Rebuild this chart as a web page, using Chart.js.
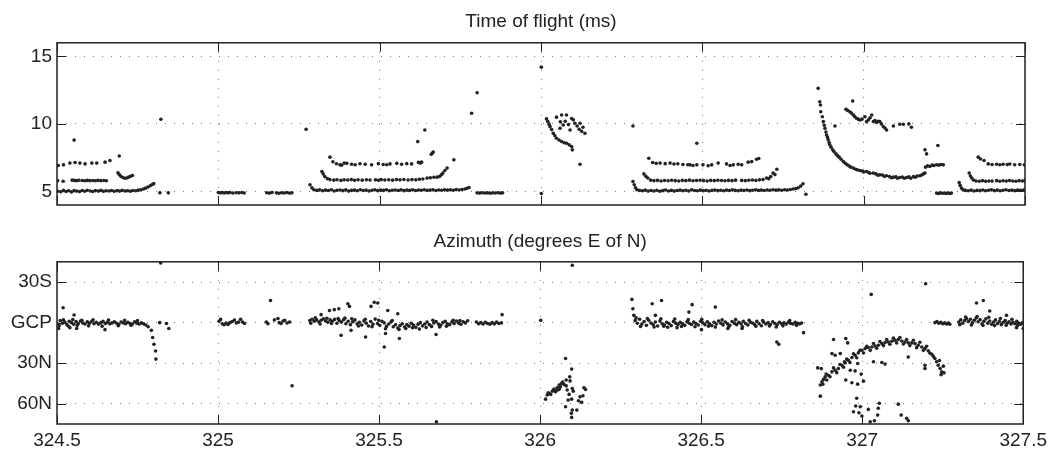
<!DOCTYPE html>
<html>
<head>
<meta charset="utf-8">
<script src="https://cdn.jsdelivr.net/npm/chart.js@4.4.1/dist/chart.umd.min.js"></script>
<style>
  body { margin: 0; background: #fff; }
  canvas { position: absolute; left: 0; }
  #tof { top: 0; }
  #az { top: 226px; }
</style>
</head>
<body>
<canvas id="tof" width="1052" height="226"></canvas>
<canvas id="az" width="1052" height="226"></canvas>
<script>
// axis ticks
const xTicks = [324.5, 325, 325.5, 326, 326.5, 327, 327.5];
const tofTicks = [5, 10, 15];
const azTicks = [-30, 0, 30, 60];
const azTickLabels = ['30S', 'GCP', '30N', '60N'];

// time of flight (ms) -- [time, ms]
const tofNear5 = [
  [324.503,5.02],[324.512,4.98],[324.520,5.08],[324.528,5.00],[324.536,5.05],[324.545,4.97],[324.553,5.06],[324.561,5.03],
  [324.570,4.99],[324.578,5.07],[324.586,5.02],[324.594,5.09],[324.603,5.04],[324.611,5.00],[324.619,5.06],[324.628,5.03],
  [324.636,5.08],[324.644,5.01],[324.652,5.05],[324.661,5.04],[324.669,5.07],[324.677,5.02],[324.686,5.06],[324.694,5.03],
  [324.702,5.08],[324.711,5.04],[324.719,5.05],[324.727,5.02],[324.735,5.07],[324.744,5.05],[324.752,5.10],[324.760,5.12],
  [324.768,5.18],[324.775,5.25],[324.782,5.33],[324.789,5.42],[324.795,5.52],[324.800,5.58],[324.819,4.90],[324.845,4.90],
  [325.000,4.93],[325.006,4.90],[325.012,4.92],[325.018,4.89],[325.024,4.92],[325.030,4.90],[325.036,4.93],[325.045,4.89],
  [325.055,4.91],[325.064,4.90],[325.073,4.92],[325.080,4.89],
  [325.150,4.91],[325.158,4.88],[325.166,4.92],[325.180,4.90],[325.188,4.87],[325.196,4.91],[325.204,4.89],[325.212,4.92],
  [325.220,4.88],[325.228,4.90],
  [325.284,5.50],[325.290,5.27],[325.296,5.13],[325.305,5.08],[325.314,5.12],[325.323,5.05],[325.332,5.10],[325.341,5.07],
  [325.350,5.13],[325.359,5.04],[325.368,5.09],[325.377,5.11],[325.386,5.06],[325.395,5.12],[325.404,5.03],[325.413,5.08],
  [325.422,5.10],[325.431,5.05],[325.440,5.13],[325.449,5.07],[325.458,5.10],[325.467,5.04],[325.476,5.09],[325.485,5.12],
  [325.494,5.06],[325.503,5.10],[325.512,5.08],[325.521,5.13],[325.530,5.05],[325.539,5.09],[325.548,5.11],[325.557,5.07],
  [325.566,5.12],[325.575,5.06],[325.584,5.10],[325.593,5.08],[325.602,5.12],[325.611,5.07],[325.620,5.11],[325.629,5.09],
  [325.638,5.13],[325.647,5.08],[325.656,5.10],[325.665,5.12],[325.674,5.07],[325.683,5.11],[325.692,5.09],[325.701,5.13],
  [325.710,5.10],[325.719,5.12],[325.728,5.09],[325.737,5.14],[325.746,5.11],[325.755,5.15],[325.764,5.18],[325.771,5.24],
  [325.777,5.30],
  [325.802,4.90],[325.810,4.88],[325.818,4.91],[325.826,4.89],[325.834,4.90],[325.842,4.87],[325.850,4.90],[325.858,4.89],
  [325.866,4.91],[325.874,4.88],[325.881,4.90],[326.001,4.85],
  [326.285,5.74],[326.289,5.50],[326.293,5.28],[326.297,5.13],[326.305,5.08],[326.314,5.05],[326.323,5.10],[326.332,5.03],
  [326.341,5.07],[326.350,5.04],[326.359,5.09],[326.368,5.02],[326.377,5.06],[326.386,5.11],[326.395,5.04],[326.404,5.08],
  [326.413,5.03],[326.422,5.07],[326.431,5.10],[326.440,5.05],[326.449,5.09],[326.458,5.04],[326.467,5.12],[326.476,5.07],
  [326.485,5.05],[326.494,5.10],[326.503,5.06],[326.512,5.09],[326.521,5.04],[326.530,5.08],[326.539,5.11],[326.548,5.06],
  [326.557,5.09],[326.566,5.05],[326.575,5.10],[326.584,5.07],[326.593,5.12],[326.602,5.08],[326.611,5.05],[326.620,5.10],
  [326.629,5.07],[326.638,5.11],[326.647,5.06],[326.656,5.09],[326.665,5.12],[326.674,5.08],[326.683,5.10],[326.692,5.07],
  [326.701,5.11],[326.710,5.09],[326.719,5.13],[326.728,5.10],[326.737,5.12],[326.746,5.09],[326.755,5.13],[326.764,5.11],
  [326.773,5.15],[326.782,5.18],[326.790,5.22],[326.797,5.28],[326.805,5.40],[326.812,5.57],[326.821,4.80],
  [327.226,4.88],[327.232,4.85],[327.238,4.90],[327.244,4.87],[327.250,4.89],[327.256,4.86],[327.262,4.88],[327.268,4.85],
  [327.272,4.89],
  [327.296,5.66],[327.299,5.45],[327.303,5.25],[327.308,5.12],[327.315,5.08],[327.324,5.05],[327.333,5.10],[327.342,5.04],
  [327.351,5.08],[327.360,5.06],[327.369,5.11],[327.378,5.05],[327.387,5.09],[327.396,5.12],[327.405,5.06],[327.414,5.10],
  [327.423,5.05],[327.432,5.09],[327.441,5.13],[327.450,5.07],[327.459,5.10],[327.468,5.06],[327.477,5.11],[327.486,5.08],
  [327.495,5.10]
];

const tofNear6 = [
  [324.502,5.80],[324.519,5.76],[324.547,5.84],[324.554,5.82],[324.561,5.80],[324.568,5.83],[324.578,5.81],[324.586,5.79],
  [324.594,5.82],[324.602,5.80],[324.611,5.81],[324.619,5.79],[324.627,5.82],[324.636,5.80],[324.645,5.81],[324.653,5.79],
  [324.689,6.38],[324.693,6.25],[324.698,6.12],[324.704,6.03],[324.710,5.98],[324.716,6.00],[324.722,6.06],[324.728,6.12],
  [324.734,6.18],
  [325.321,6.48],[325.325,6.30],[325.330,6.10],[325.338,5.95],[325.346,5.88],[325.358,5.84],[325.368,5.87],[325.380,5.82],
  [325.390,5.86],[325.401,5.85],[325.412,5.88],[325.422,5.83],[325.433,5.86],[325.446,5.84],[325.459,5.87],[325.470,5.85],
  [325.487,5.86],[325.496,5.83],[325.505,5.88],[325.516,5.85],[325.528,5.87],[325.540,5.84],[325.552,5.88],[325.563,5.86],
  [325.575,5.89],[325.588,5.85],[325.600,5.88],[325.612,5.86],[325.623,5.90],[325.634,5.92],[325.647,5.99],[325.657,6.02],
  [325.668,6.05],[325.678,6.06],[325.686,6.12],[325.692,6.25],[325.696,6.36],[325.702,6.55],[325.709,6.73],
  [326.319,6.30],[326.325,6.12],[326.331,6.00],[326.340,5.84],[326.350,5.80],[326.361,5.82],[326.372,5.78],[326.383,5.81],
  [326.394,5.79],[326.405,5.83],[326.416,5.80],[326.427,5.78],[326.438,5.82],[326.449,5.80],[326.460,5.84],[326.471,5.79],
  [326.482,5.81],[326.493,5.83],[326.504,5.80],[326.515,5.78],[326.526,5.82],[326.537,5.80],[326.548,5.83],[326.559,5.81],
  [326.570,5.79],[326.581,5.82],[326.592,5.80],[326.603,5.84],[326.622,5.82],[326.633,5.80],[326.644,5.83],[326.655,5.85],
  [326.666,5.82],[326.677,5.86],[326.688,5.88],[326.699,6.00],[326.706,5.95],[326.712,6.10],[326.719,6.36],[326.725,6.25],
  [326.731,6.65],
  [327.327,6.36],[327.331,6.15],[327.335,6.00],[327.340,5.85],[327.348,5.78],[327.358,5.76],[327.368,5.80],[327.378,5.75],
  [327.388,5.78],[327.398,5.77],[327.412,5.80],[327.422,5.76],[327.432,5.79],[327.442,5.77],[327.452,5.81],[327.462,5.78],
  [327.472,5.76],[327.482,5.80],[327.492,5.78],[327.499,5.79]
];

const tofNear7 = [
  [324.504,6.92],[324.520,6.97],[324.540,7.10],[324.556,7.14],[324.571,7.10],[324.587,7.04],[324.608,7.10],[324.623,7.10],
  [324.649,7.17],[324.664,7.29],[324.693,7.63],
  [325.346,7.54],[325.355,7.20],[325.366,7.05],[325.377,6.97],[325.382,6.95],[325.390,7.10],[325.398,7.08],[325.413,7.02],
  [325.424,6.98],[325.439,7.05],[325.455,7.02],[325.475,6.97],[325.496,7.06],[325.511,7.00],[325.522,6.98],[325.532,7.04],
  [325.553,7.08],[325.568,7.02],[325.584,7.06],[325.599,7.04],[325.620,7.15],[325.626,7.10],[325.630,7.17],
  [326.334,7.46],[326.346,7.14],[326.357,7.08],[326.369,7.10],[326.385,7.06],[326.400,7.10],[326.412,7.03],[326.424,7.05],
  [326.440,7.00],[326.455,6.98],[326.462,6.97],[326.471,6.92],[326.483,6.97],[326.502,6.97],[326.518,6.90],[326.529,6.97],
  [326.549,7.10],[326.575,7.04],[326.586,6.92],[326.596,6.97],[326.611,7.02],[326.622,6.97],[326.642,7.17],[326.653,7.21],
  [326.668,7.39],[326.675,7.44],
  [327.192,6.80],[327.198,6.90],[327.205,6.85],[327.212,6.95],[327.218,6.92],[327.226,6.98],[327.233,6.95],[327.240,7.00],
  [327.247,6.97],
  [327.355,7.54],[327.362,7.40],[327.373,7.29],[327.386,7.04],[327.398,7.00],[327.412,7.02],[327.422,6.98],[327.432,7.02],
  [327.445,6.99],[327.453,7.03],[327.468,6.98],[327.484,7.00],[327.498,6.97]
];

const tofBursts = [
  [326.017,10.37],[326.021,10.18],[326.025,9.98],[326.028,9.80],[326.033,9.58],[326.038,9.30],[326.043,9.12],[326.048,8.94],
  [326.056,8.80],[326.064,8.69],[326.072,8.60],[326.079,8.57],[326.087,8.45],[326.095,8.32],[326.097,8.08],
  [326.048,10.50],[326.064,10.66],[326.079,10.66],[326.100,10.30],[326.121,10.05],[326.136,9.30],[326.069,9.92],[326.090,9.55],
  [326.059,9.68],[326.075,10.20],[326.085,9.95],[326.105,10.05],[326.112,9.85],[326.118,9.60],[326.126,9.45],[326.130,9.75],
  [326.095,10.40],[326.060,10.15],
  [326.859,12.63],[326.864,11.64],[326.866,11.40],[326.867,10.90],[326.872,10.53],[326.875,10.17],[326.880,9.68],[326.885,9.18],
  [326.890,8.82],[326.895,8.45],[326.904,8.08],[326.914,7.78],[326.924,7.54],[326.937,7.21],[326.949,6.97],[326.968,6.73],
  [326.988,6.55],[327.009,6.48],[327.030,6.36],[327.050,6.23],[327.071,6.16],[327.092,6.06],[327.112,6.03],[327.133,6.03],
  [327.154,6.10],[327.174,6.16],[327.190,6.36],
  [326.878,9.90],[326.883,9.40],[326.888,9.00],[326.893,8.62],[326.899,8.28],[326.908,7.95],[326.919,7.65],[326.930,7.38],
  [326.943,7.08],[326.955,6.88],[326.960,6.80],[326.975,6.65],[326.980,6.60],[326.995,6.52],[327.000,6.45],[327.015,6.40],
  [327.020,6.35],[327.038,6.30],[327.044,6.20],[327.058,6.22],[327.064,6.12],[327.080,6.10],[327.086,6.02],[327.100,6.08],
  [327.105,5.98],[327.120,6.06],[327.126,5.98],[327.140,6.08],[327.146,5.98],[327.160,6.05],[327.166,6.14],[327.180,6.22],
  [327.185,6.30],
  [326.966,11.69],[326.945,11.08],[326.957,10.90],[326.968,10.66],[326.978,10.42],[326.988,10.29],[327.004,10.53],[327.009,10.17],
  [327.025,10.66],[327.030,10.17],[327.040,10.10],[327.050,10.17],[327.061,9.80],[327.071,9.55],[327.092,9.85],[327.112,9.97],
  [327.123,9.97],[327.140,10.00],[327.148,9.75],
  [326.950,11.00],[326.962,10.80],[326.972,10.55],[326.983,10.35],[326.995,10.35],[327.015,10.30],[327.020,10.45],[327.035,10.25],
  [327.045,10.20],[327.055,10.00],[327.066,9.70]
];

const tofStray = [
  [324.553,8.80],[324.822,10.34],[325.272,9.60],[325.618,8.69],[325.640,9.55],[325.663,7.83],[325.666,7.92],[325.660,7.76],
  [325.730,7.34],[325.785,10.79],[325.802,12.30],[326.001,14.20],[326.121,7.02],[326.285,9.85],[326.483,8.57],[326.911,9.85],
  [327.190,8.08],[327.195,7.78],[327.230,8.40]
];

// azimuth (degrees, + = north of GCP) -- [time, deg]
const azGcp = [
  [324.503,1.0],[324.510,-1.5],[324.517,0.5],[324.524,-0.5],[324.531,1.5],[324.538,-1.0],[324.545,0.0],[324.552,1.2],
  [324.559,-0.8],[324.566,0.6],[324.573,-1.2],[324.580,0.3],[324.587,1.0],[324.594,-0.6],[324.601,0.4],[324.608,-1.0],
  [324.615,0.8],[324.622,-0.3],[324.629,1.1],[324.636,0.0],[324.643,-0.9],[324.650,0.7],[324.657,-0.4],[324.664,0.9],
  [324.671,0.2],[324.678,-0.7],[324.685,0.5],[324.692,1.3],[324.699,-0.5],[324.706,0.3],[324.713,0.8],[324.720,-0.2],
  [324.727,0.6],[324.734,1.0],[324.741,-0.6],[324.748,0.4],[324.755,1.1],[324.762,0.2],[324.769,0.9],[324.776,1.8],
  [324.783,3.0],
  [324.507,2.2],[324.520,-2.0],[324.535,2.5],[324.549,-2.3],[324.563,2.0],[324.577,-1.8],[324.598,2.4],[324.612,-2.1],
  [324.640,2.6],[324.660,-1.9],[324.690,2.3],[324.710,-1.7],[324.730,2.0],[324.750,-1.5],
  [324.793,5.7],[324.797,11.0],[324.801,16.0],[324.806,21.0],[324.807,27.0],[324.819,0.0],[324.840,0.7],[324.847,4.4],
  [325.003,-1.0],[325.008,-2.4],[325.013,0.8],[325.019,1.6],[325.025,0.4],[325.031,1.3],[325.037,0.0],[325.044,-0.8],
  [325.051,-1.9],[325.057,0.2],[325.064,-0.4],[325.070,-2.5],[325.076,-0.5],[325.082,0.7],
  [325.150,-0.5],[325.155,0.8],[325.175,-2.0],[325.186,-3.0],[325.190,0.0],[325.196,0.7],[325.202,-1.2],[325.207,-1.7],
  [325.214,0.3],[325.222,-0.5],
  [325.285,-1.5],[325.292,-2.5],[325.299,-1.0],[325.306,-2.0],[325.313,-0.5],[325.320,-1.8],[325.327,-2.8],[325.334,-1.2],
  [325.341,-0.3],[325.348,-2.0],[325.355,-1.0],[325.362,-2.4],[325.369,0.5],[325.376,-1.5],[325.383,-0.4],[325.390,-2.2],
  [325.397,0.8],[325.404,-1.0],[325.411,1.5],[325.418,-0.6],[325.425,-2.0],[325.432,0.9],[325.439,-0.2],[325.446,1.8],
  [325.453,-1.3],[325.460,0.4],[325.467,2.5],[325.474,-0.8],[325.481,1.2],[325.488,-2.6],[325.495,0.6],[325.502,2.0],
  [325.509,-1.0],[325.516,0.2],[325.523,2.8],[325.530,1.0],[325.537,-0.5],[325.544,3.0],[325.551,1.6],[325.558,4.0],
  [325.565,2.2],[325.572,0.8],[325.579,3.2],[325.586,1.5],[325.593,2.6],[325.600,0.5],[325.607,1.8],[325.614,3.5],
  [325.621,1.2],[325.628,0.0],[325.635,2.4],[325.642,1.0],[325.649,-0.5],[325.656,1.5],[325.663,2.8],[325.670,0.3],
  [325.677,-0.8],[325.684,1.1],[325.691,2.0],[325.698,0.0],[325.705,-1.0],[325.712,0.8],[325.719,1.5],[325.726,-0.5],
  [325.733,0.6],[325.740,-1.2],[325.747,0.4],[325.754,1.2],[325.761,-0.6],[325.768,0.2],[325.775,-1.4],
  [325.288,0.5],[325.302,-3.5],[325.317,1.0],[325.338,-3.2],[325.352,0.6],[325.373,-3.0],[325.394,-3.3],[325.415,-2.8],
  [325.436,2.5],[325.457,-2.5],[325.478,3.0],[325.499,-1.8],[325.520,4.5],[325.541,-1.5],[325.562,5.0],[325.583,4.3],
  [325.604,3.8],[325.625,4.8],[325.646,3.6],[325.667,-1.8],[325.688,3.2],[325.709,2.6],[325.730,-1.8],[325.751,-1.6],
  [325.802,-0.5],[325.809,0.8],[325.816,0.0],[325.823,1.0],[325.830,-0.3],[325.837,0.6],[325.844,1.2],[325.851,0.0],
  [325.858,0.9],[325.865,-0.4],[325.872,0.7],[325.880,0.2],[326.002,-1.7],
  [326.285,-17.2],[326.288,-10.3],[326.291,-5.4],
  [326.295,-1.5],[326.302,0.5],[326.309,-2.5],[326.316,1.0],[326.323,-0.8],[326.330,2.0],[326.337,-1.8],[326.344,0.3],
  [326.351,1.5],[326.358,-0.5],[326.365,2.5],[326.372,-1.2],[326.379,0.8],[326.386,1.8],[326.393,-0.3],[326.400,0.6],
  [326.407,2.2],[326.414,-0.9],[326.421,0.4],[326.428,1.3],[326.435,-0.2],[326.442,0.9],[326.449,2.0],[326.456,-0.7],
  [326.463,0.5],[326.470,1.4],[326.477,-0.4],[326.484,0.7],[326.491,1.8],[326.498,-1.0],[326.505,0.2],[326.512,1.5],
  [326.519,-0.6],[326.526,0.8],[326.533,2.2],[326.540,-0.3],[326.547,1.0],[326.554,-1.2],[326.561,0.5],[326.568,1.7],
  [326.575,-0.5],[326.582,0.9],[326.589,2.0],[326.596,-0.8],[326.603,0.4],[326.610,1.5],[326.617,-0.2],[326.624,1.0],
  [326.631,-1.0],[326.638,0.6],[326.645,1.8],[326.652,-0.4],[326.659,0.3],[326.666,1.3],[326.673,-0.9],[326.680,0.8],
  [326.687,2.3],[326.694,-0.3],[326.701,1.0],[326.708,0.0],[326.715,1.4],[326.722,-0.6],[326.729,0.7],[326.736,1.6],
  [326.743,-0.2],[326.750,0.9],[326.757,0.2],[326.764,1.1],[326.771,-0.4],[326.778,0.6],[326.785,1.0],[326.792,-0.2],
  [326.799,0.5],[326.806,0.9],[326.812,0.3],
  [326.298,-3.5],[326.312,2.8],[326.333,-3.0],[326.354,3.2],[326.375,-2.8],[326.396,3.4],[326.418,-2.6],[326.439,2.9],
  [326.460,-2.2],[326.481,3.0],[326.502,-2.4],[326.523,2.6],[326.544,3.3],[326.565,-2.0],[326.586,2.8],[326.607,-2.2],
  [326.628,3.0],[326.649,-1.8],[326.670,2.7],[326.691,-1.6],[326.712,2.5],[326.733,3.2],[326.754,2.4],[326.775,-1.5],
  [326.796,2.0],
  [327.226,0.0],[327.232,-0.8],[327.238,0.5],[327.244,-0.3],[327.250,0.8],[327.256,0.2],[327.262,1.0],[327.268,0.4],
  [327.272,1.2],
  [327.300,-0.5],[327.306,-2.0],[327.312,0.5],[327.318,-1.5],[327.324,-3.0],[327.330,-0.8],[327.336,-2.5],[327.342,0.2],
  [327.348,-1.8],[327.354,-3.5],[327.360,-0.6],[327.366,-2.2],[327.372,0.8],[327.378,-1.0],[327.384,-2.8],[327.390,0.4],
  [327.396,-1.2],[327.402,1.2],[327.408,-0.5],[327.414,-2.0],[327.420,0.6],[327.426,-0.8],[327.432,1.5],[327.438,-0.2],
  [327.444,-1.5],[327.450,0.5],[327.456,-0.6],[327.462,1.0],[327.468,-0.3],[327.474,0.8],[327.480,-1.0],[327.486,0.4],
  [327.492,1.2],[327.498,0.0],
  [327.303,1.5],[327.321,-4.2],[327.339,1.8],[327.357,-4.5],[327.375,2.0],[327.393,-4.0],[327.411,2.2],[327.429,-3.0],
  [327.447,2.0],[327.465,-2.5],[327.483,2.0]
];

const azBurst = [
  [326.079,26.5],[326.098,34.4],[326.092,40.1],[326.093,43.1],[326.081,42.5],[326.066,45.0],[326.074,45.7],[326.059,46.2],
  [326.053,48.2],[326.043,49.2],[326.038,50.7],[326.028,52.4],[326.022,53.6],[326.017,56.6],[326.059,49.2],[326.048,51.2],
  [326.033,53.1],[326.081,46.8],[326.084,49.9],[326.090,53.1],[326.087,57.3],[326.100,48.7],[326.103,50.7],[326.098,56.6],
  [326.079,62.2],[326.100,64.7],[326.097,67.1],[326.098,70.1],[326.114,64.7],[326.119,57.8],[326.124,54.9],[326.129,59.0],
  [326.136,48.2],[326.141,49.4],[326.133,54.1],[326.025,52.0],[326.045,50.0],[326.063,47.5],[326.070,44.0],[326.055,49.8]
];

const azArc = [
  [326.870,46.2],[326.875,43.8],[326.880,42.0],[326.885,40.1],[326.890,42.5],[326.895,38.9],[326.906,36.4],[326.916,35.2],
  [326.926,34.0],[326.937,31.5],[326.947,29.8],[326.957,27.8],[326.968,25.8],[326.978,24.1],[326.988,22.4],[326.999,20.4],
  [327.009,19.2],[327.019,18.4],[327.030,18.0],[327.040,17.3],[327.050,16.7],[327.061,15.5],[327.071,14.7],[327.081,14.3],
  [327.092,13.8],[327.102,13.1],[327.112,12.5],[327.123,13.6],[327.133,14.3],[327.143,15.0],[327.154,15.0],[327.164,15.5],
  [327.174,16.7],[327.185,18.0],[327.195,19.2],[327.205,20.9],[327.216,23.4],[327.226,26.5],[327.231,29.0],[327.236,31.5],
  [327.242,33.9],[327.247,36.4],[327.254,37.2],[327.252,32.2],
  [326.878,45.5],[326.888,38.0],[326.900,40.0],[326.911,33.5],[326.921,37.0],[326.931,31.0],[326.942,33.0],[326.952,27.0],
  [326.962,29.5],[326.973,23.0],[326.983,26.0],[326.993,20.5],[327.004,22.5],[327.014,17.5],[327.025,20.5],[327.035,15.5],
  [327.045,19.0],[327.055,14.0],[327.066,17.0],[327.076,12.5],[327.086,16.0],[327.097,11.5],[327.107,15.0],[327.117,11.0],
  [327.128,15.8],[327.138,12.5],[327.148,17.0],[327.159,13.0],[327.169,18.5],[327.179,14.5],[327.190,20.5],[327.200,17.5],
  [327.210,22.5],[327.221,25.0],[327.240,28.0],[327.245,38.5],
  [326.862,33.5],[326.873,34.0],[326.870,54.4],[326.911,12.5],[326.949,11.8],[326.955,15.0],[326.906,22.9],[326.916,24.1],
  [326.932,22.9],[326.945,29.0],[326.963,35.2],[326.949,42.5],[326.968,44.5],[326.986,45.5],[327.004,43.3],[326.997,38.1],
  [326.986,30.2],[326.978,35.7],[327.035,29.0],[327.061,29.5],[327.071,30.7],[327.143,25.4],[327.195,31.5],[327.195,33.9],
  [326.983,56.0],[326.980,61.7],[326.994,62.2],[326.973,65.9],[326.990,66.7],[327.019,64.2],[326.999,69.1],[327.025,73.3],
  [327.038,72.6],[327.048,68.4],[327.053,59.7],[327.050,63.4],[327.112,60.3],[327.121,68.4],[327.138,70.8],[327.143,72.6]
];

const azStray = [
  [324.519,-11.0],[324.553,-5.6],[324.505,4.4],[324.540,3.7],[324.561,4.4],[324.649,5.2],[324.822,-44.2],
  [325.163,-16.4],[325.230,46.7],
  [325.320,-5.9],[325.346,-9.0],[325.361,-9.6],[325.375,-10.3],[325.403,-14.0],[325.408,-12.0],[325.382,9.4],[325.413,5.7],
  [325.458,10.6],[325.475,-12.0],[325.485,-15.0],[325.496,-14.5],[325.516,18.0],[325.520,8.1],[325.527,-9.0],[325.558,-6.6],
  [325.563,11.8],[325.677,8.8],[325.678,73.3],[325.882,-5.9],[326.100,-42.5],
  [326.348,-14.0],[326.377,-16.4],[326.358,-5.4],[326.425,3.7],[326.384,2.7],[326.462,-7.8],[326.472,-13.3],[326.544,-11.5],
  [326.501,5.2],[326.735,14.3],[326.741,16.0],[326.818,7.4],[326.583,4.4],[326.627,4.4],
  [327.028,-20.9],[327.197,-28.8],
  [327.355,-14.5],[327.376,-16.4],[327.396,-8.6],[327.479,3.7],[327.500,4.4],[327.448,-5.4]
];

const INK = '#222';
const FONT = 'Liberation Sans, Arial, Helvetica, sans-serif';
Chart.defaults.font.family = FONT;
Chart.defaults.font.size = 19;
Chart.defaults.color = INK;

const toPts = arr => arr.map(([x, y]) => ({ x: x, y: y }));

// box round the plot and inward tick marks, matlab style
const frame = {
  id: 'frame',
  afterDatasetsDraw(chart) {
    const { ctx, chartArea: a, scales } = chart;
    const len = 9;
    ctx.save();
    ctx.strokeStyle = INK;
    ctx.lineWidth = 1;
    ctx.beginPath();
    scales.x.ticks.forEach(t => {
      const px = Math.round(scales.x.getPixelForValue(t.value)) + 0.5;
      ctx.moveTo(px, a.bottom); ctx.lineTo(px, a.bottom - len);
      ctx.moveTo(px, a.top); ctx.lineTo(px, a.top + len);
    });
    scales.y.ticks.forEach(t => {
      const py = Math.round(scales.y.getPixelForValue(t.value)) + 0.5;
      ctx.moveTo(a.left, py); ctx.lineTo(a.left + len, py);
      ctx.moveTo(a.right, py); ctx.lineTo(a.right - len, py);
    });
    ctx.stroke();
    ctx.lineWidth = 1.5;
    ctx.strokeRect(a.left, a.top, a.right - a.left, a.bottom - a.top);
    ctx.restore();
  }
};

function makePanel(canvasId, opts) {
  const xAxisHeight = opts.xAxisHeight;
  return new Chart(document.getElementById(canvasId), {
    type: 'scatter',
    data: {
      datasets: [{
        data: opts.points,
        pointRadius: 1.8,
        pointHoverRadius: 1.8,
        pointBorderWidth: 0,
        backgroundColor: INK,
        borderColor: INK
      }]
    },
    options: {
      responsive: false,
      animation: false,
      events: [],
      devicePixelRatio: 1,
      layout: { padding: { left: 0, right: 27, top: 0, bottom: 0 } },
      plugins: {
        legend: { display: false },
        tooltip: { enabled: false },
        title: {
          display: true,
          fullSize: false,
          text: opts.title,
          color: INK,
          font: { size: 19, weight: 'normal', family: FONT },
          padding: opts.titlePadding
        }
      },
      scales: {
        x: {
          type: 'linear',
          min: 324.5,
          max: 327.5,
          afterBuildTicks: s => { s.ticks = xTicks.map(v => ({ value: v })); },
          afterFit: s => { s.height = xAxisHeight; },
          ticks: {
            display: opts.showX,
            padding: 5,
            maxRotation: 0,
            callback: v => String(v)
          },
          grid: { color: '#777', lineWidth: 1, drawTicks: false },
          border: { display: false, dash: [1, 8] }
        },
        y: {
          type: 'linear',
          min: opts.yMin,
          max: opts.yMax,
          reverse: opts.reverse,
          afterBuildTicks: s => { s.ticks = opts.yTicks.map(v => ({ value: v })); },
          afterFit: s => { s.width = 57; },
          ticks: {
            padding: 5,
            callback: opts.yLabel
          },
          grid: { color: '#777', lineWidth: 1, drawTicks: false },
          border: { display: false, dash: [1, 8] }
        }
      }
    },
    plugins: [frame]
  });
}

const tofChart = makePanel('tof', {
  title: 'Time of flight (ms)',
  titlePadding: { top: 10, bottom: 10 },
  points: toPts([].concat(tofNear5, tofNear6, tofNear7, tofBursts, tofStray)),
  yMin: 4, yMax: 16, reverse: false,
  yTicks: tofTicks,
  yLabel: v => String(v),
  showX: false,
  xAxisHeight: 21
});

const azChart = makePanel('az', {
  title: 'Azimuth (degrees E of N)',
  titlePadding: { top: 4, bottom: 9 },
  points: toPts([].concat(azGcp, azBurst, azArc, azStray)),
  yMin: -45, yMax: 75, reverse: true,
  yTicks: azTicks,
  yLabel: v => azTickLabels[azTicks.indexOf(v)],
  showX: true,
  xAxisHeight: 28
});
</script>
</body>
</html>
